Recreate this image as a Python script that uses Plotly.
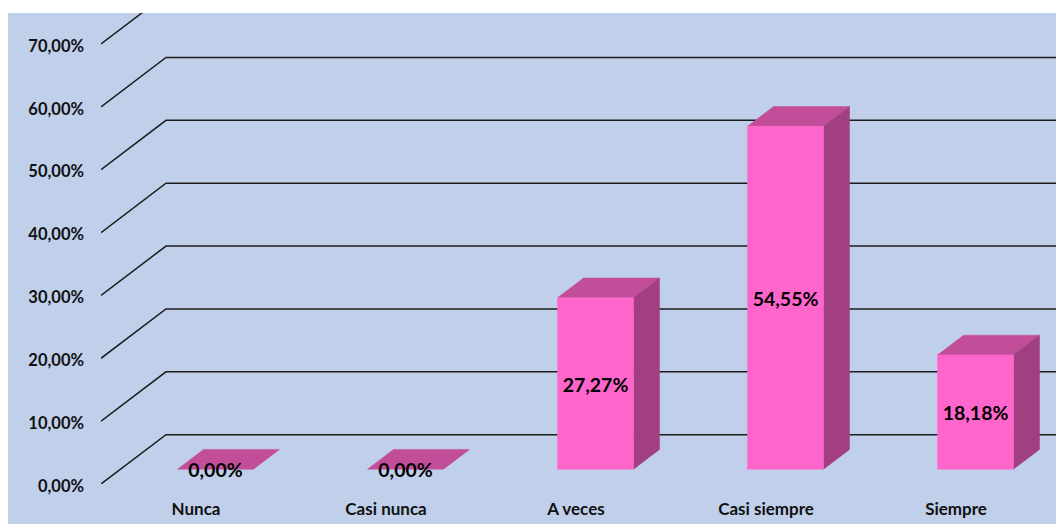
import plotly.graph_objects as go

categories = ["Nunca", "Casi nunca", "A veces", "Casi siempre", "Siempre"]
values = [0.0, 0.0, 27.27, 54.55, 18.18]
y_ticks = [0, 10, 20, 30, 40, 50, 60, 70]
y_tick_labels = ["0,00%", "10,00%", "20,00%", "30,00%", "40,00%", "50,00%", "60,00%", "70,00%"]

W, H = 1056, 524
ML, MT, MB = 101, 13, 40
Y_MAX = 74.93
X_MIN, X_MAX = -0.5, 4.526

# oblique projection of the 3D walls, in axis units
WALL_DX, WALL_DY = 0.342, 7.85
BAR_START = 0.30   # fraction of the depth where the bar front sits
BAR_DEPTH = 0.40   # fraction of the depth taken by the bar
BAR_WIDTH = 0.40
LABEL_DROP = 0.5   # optical centring of the data labels, in axis units

BG = "#C0CFEA"
FRONT = "#FF66CC"
TOP = "#C24E99"
SIDE = "#A23F80"
GRID = "#1c1c1c"
FONT = "Lato"

fig = go.Figure()


def add_poly(xs, ys, color):
    fig.add_trace(go.Scatter(x=xs, y=ys, mode="lines", fill="toself", fillcolor=color,
                             line=dict(width=0.5, color=color), hoverinfo="skip", showlegend=False))


# wall grid lines
gx, gy = [], []
for t in y_ticks:
    gx += [X_MIN, X_MIN + WALL_DX, X_MAX, None]
    gy += [t, t + WALL_DY, t + WALL_DY, None]
fig.add_trace(go.Scatter(x=gx, y=gy, mode="lines", line=dict(color=GRID, width=1.5),
                         hoverinfo="skip", showlegend=False))

# bars
ox, oy = WALL_DX * BAR_START, WALL_DY * BAR_START
dx, dy = WALL_DX * BAR_DEPTH, WALL_DY * BAR_DEPTH
label_x, label_y = [], []
for i, v in enumerate(values):
    x0 = i + ox - BAR_WIDTH / 2
    x1 = i + ox + BAR_WIDTH / 2
    b = oy
    t = oy + v
    add_poly([x0, x1, x1 + dx, x0 + dx, x0], [t, t, t + dy, t + dy, t], TOP)
    if v > 0:
        add_poly([x1, x1 + dx, x1 + dx, x1, x1], [b, b + dy, t + dy, t, b], SIDE)
        add_poly([x0, x1, x1, x0, x0], [b, b, t, t, b], FRONT)
    label_x.append(i + ox)
    label_y.append(b + v / 2 - LABEL_DROP)

fig.add_trace(go.Scatter(
    x=label_x, y=label_y, mode="text",
    text=[f"{v:.2f}".replace(".", ",") + "%" for v in values],
    textposition="middle center",
    textfont=dict(family=FONT, size=19.5, color="#000000", weight=700),
    hoverinfo="skip", showlegend=False, cliponaxis=False,
))

plot_w = W - ML
plot_h = H - MT - MB
fig.add_shape(type="rect", xref="paper", yref="paper", layer="below",
              x0=(8 - ML) / plot_w, x1=1, y0=-MB / plot_h, y1=1,
              fillcolor=BG, line=dict(width=0))

fig.update_layout(
    width=W, height=H, autosize=False,
    margin=dict(l=ML, r=0, t=MT, b=MB, pad=0),
    paper_bgcolor="#FFFFFF", plot_bgcolor="rgba(0,0,0,0)",
    xaxis=dict(range=[X_MIN, X_MAX], tickmode="array", tickvals=list(range(len(categories))),
               ticktext=categories, showgrid=False, zeroline=False, showline=False,
               ticks="", ticklabelstandoff=13,
               tickfont=dict(family=FONT, size=17, color="#111111", weight=700)),
    yaxis=dict(range=[0, Y_MAX], tickmode="array", tickvals=y_ticks, ticktext=y_tick_labels,
               showgrid=False, zeroline=False, showline=False,
               ticks="", ticklabelstandoff=16, ticklabelshift=2,
               tickfont=dict(family=FONT, size=16.5, color="#111111", weight=700)),
)

fig.write_html("out.html", config={"displayModeBar": False},
               post_script="document.body.style.margin='0';document.body.style.overflow='hidden';")
